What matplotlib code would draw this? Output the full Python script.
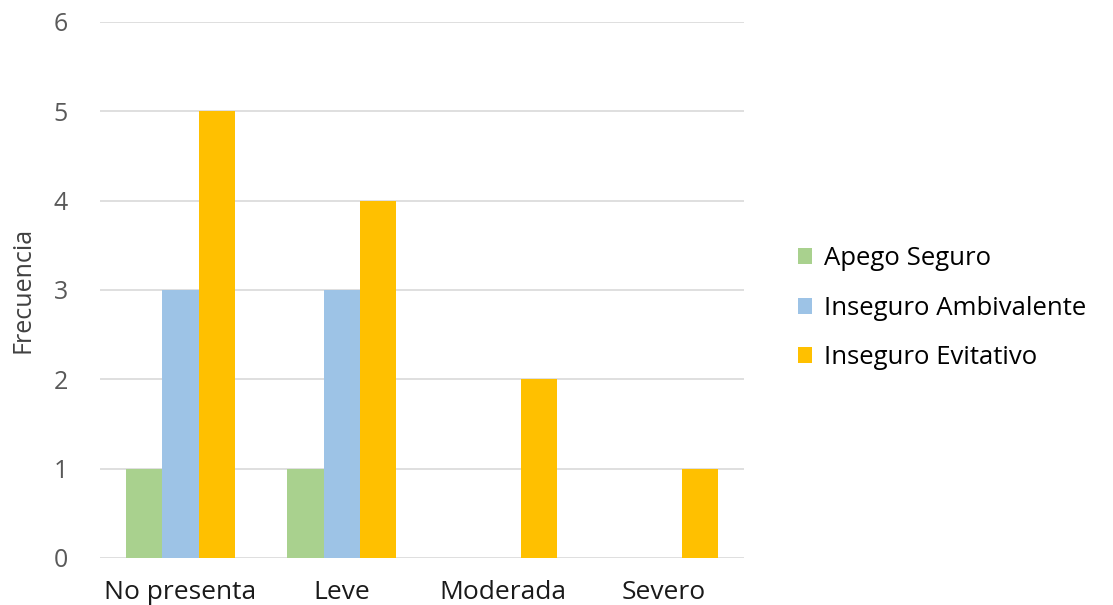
import matplotlib.pyplot as plt
import numpy as np

categories = ['No presenta', 'Leve', 'Moderada', 'Severo']
series_names = ['Apego Seguro', 'Inseguro Ambivalente', 'Inseguro Evitativo']
apego_seguro = [1, 1, 0, 0]
inseguro_ambivalente = [3, 3, 0, 0]
inseguro_evitativo = [5, 4, 2, 1]
colors = ['#A9D18E', '#9DC3E6', '#FFC000']

plt.rcParams['font.family'] = ['Open Sans', 'DejaVu Sans']

fig = plt.figure(figsize=(11.13, 6.05), dpi=100)
ax = fig.add_axes([0.0898, 0.0777, 0.579, 0.886])

x = np.arange(len(categories))
width = 0.224
for i, (vals, name, c) in enumerate(zip([apego_seguro, inseguro_ambivalente, inseguro_evitativo],
                                        series_names, colors)):
    ax.bar(x + (i - 1) * width, vals, width, color=c, label=name, zorder=3)

ax.set_xlim(-0.5, 3.5)
ax.set_ylim(0, 6)
ax.set_yticks(range(7))
ax.yaxis.grid(True, color='#d9d9d9', linewidth=1.2, zorder=0)
for s in ax.spines.values():
    s.set_visible(False)
ax.tick_params(length=0)
ax.tick_params(axis='y', labelsize=18, labelcolor='#595959', pad=23)
ax.tick_params(axis='x', labelsize=19, labelcolor='#1a1a1a', pad=16)
ax.set_xticks(x)
ax.set_xticklabels(categories)
ax.set_ylabel('Frecuencia', fontsize=18, color='#404040', labelpad=13)

leg = ax.legend(loc='center left', bbox_to_anchor=(1.047, 0.466), frameon=False,
                fontsize=18.5, handlelength=0.57, handleheight=0.57, handletextpad=0.45,
                labelspacing=0.95)

fig.savefig('out.png', dpi=100)
